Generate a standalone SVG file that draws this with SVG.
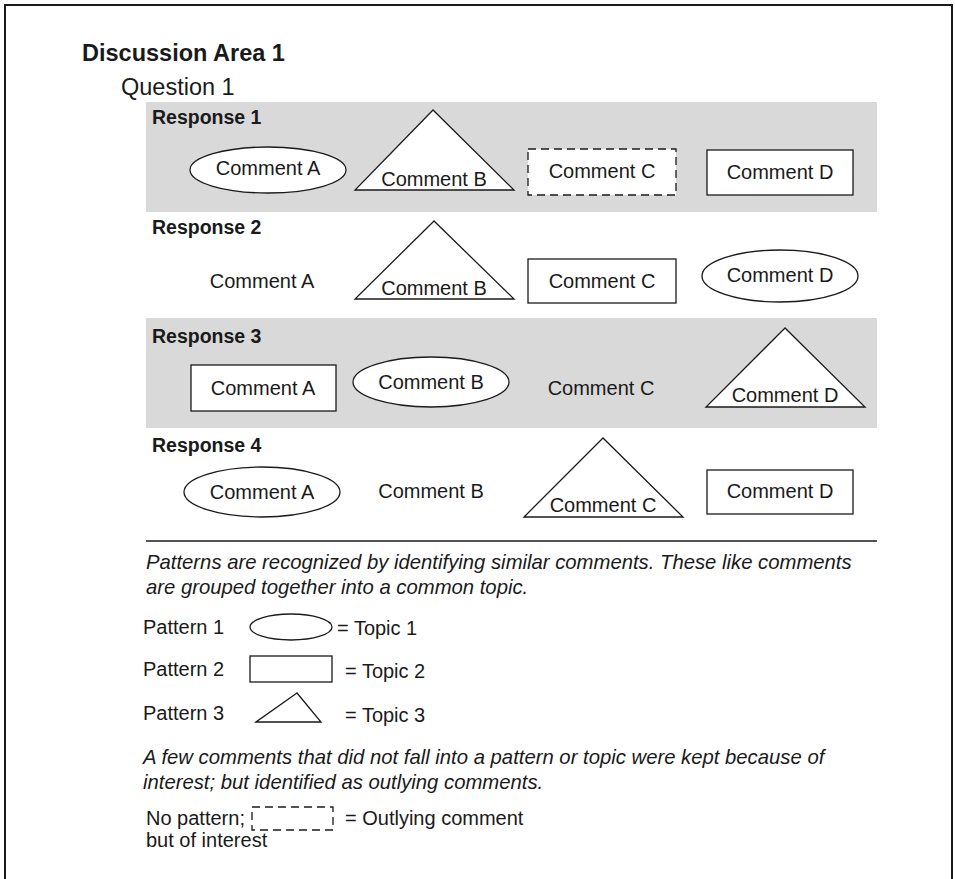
<svg xmlns="http://www.w3.org/2000/svg" width="955" height="879" viewBox="0 0 955 879">
  <style>
    text { font-family: "Liberation Sans", Arial, sans-serif; fill: #1a1a1a; }
    .title { font-size: 23.5px; font-weight: bold; }
    .question { font-size: 23.5px; }
    .resp { font-size: 19.5px; font-weight: bold; }
    .cmt { font-size: 20px; text-anchor: middle; }
    .note { font-size: 20.3px; font-style: italic; }
    .legend { font-size: 20px; }
    .shape { fill: #ffffff; stroke: #1a1a1a; stroke-width: 1.3; }
    .dashed { fill: #ffffff; stroke: #1a1a1a; stroke-width: 1.3; stroke-dasharray: 8 5; }
    .band { fill: #d9d9d9; }
    .frame { fill: none; stroke: #1a1a1a; stroke-width: 2; }
  </style>

  <!-- page frame -->
  <path class="frame" d="M5 879 V5 H952 V879"/>

  <text class="title" x="82" y="61">Discussion Area 1</text>
  <text class="question" x="121" y="95">Question 1</text>

  <!-- shaded response bands -->
  <rect class="band" x="146" y="102" width="731" height="110"/>
  <rect class="band" x="146" y="318" width="731" height="110"/>

  <!-- Response 1 -->
  <g id="response1">
    <text class="resp" x="152" y="124">Response 1</text>
    <g id="r1-a">
      <ellipse class="shape" cx="268" cy="170" rx="78" ry="23"/>
      <text class="cmt" x="268" y="175">Comment A</text>
    </g>
    <g id="r1-b">
      <polygon class="shape" points="433,110 355,190 514,190"/>
      <text class="cmt" x="434" y="186">Comment B</text>
    </g>
    <g id="r1-c">
      <rect class="dashed" x="528" y="149" width="148" height="46"/>
      <text class="cmt" x="602" y="178">Comment C</text>
    </g>
    <g id="r1-d">
      <rect class="shape" x="707" y="150" width="146" height="45"/>
      <text class="cmt" x="780" y="179">Comment D</text>
    </g>
  </g>

  <!-- Response 2 -->
  <g id="response2">
    <text class="resp" x="152" y="234">Response 2</text>
    <g id="r2-a">
      <text class="cmt" x="262" y="288">Comment A</text>
    </g>
    <g id="r2-b">
      <polygon class="shape" points="434,221 355,299 514,299"/>
      <text class="cmt" x="434" y="295">Comment B</text>
    </g>
    <g id="r2-c">
      <rect class="shape" x="528" y="259" width="148" height="44"/>
      <text class="cmt" x="602" y="288">Comment C</text>
    </g>
    <g id="r2-d">
      <ellipse class="shape" cx="780" cy="276" rx="78" ry="26"/>
      <text class="cmt" x="780" y="282">Comment D</text>
    </g>
  </g>

  <!-- Response 3 -->
  <g id="response3">
    <text class="resp" x="152" y="343">Response 3</text>
    <g id="r3-a">
      <rect class="shape" x="191" y="365" width="145" height="46"/>
      <text class="cmt" x="263" y="395">Comment A</text>
    </g>
    <g id="r3-b">
      <ellipse class="shape" cx="431" cy="382" rx="78" ry="25"/>
      <text class="cmt" x="431" y="389">Comment B</text>
    </g>
    <g id="r3-c">
      <text class="cmt" x="601" y="395">Comment C</text>
    </g>
    <g id="r3-d">
      <polygon class="shape" points="785,328 706,407 865,407"/>
      <text class="cmt" x="785" y="402">Comment D</text>
    </g>
  </g>

  <!-- Response 4 -->
  <g id="response4">
    <text class="resp" x="152" y="452">Response 4</text>
    <g id="r4-a">
      <ellipse class="shape" cx="262" cy="492" rx="78" ry="25"/>
      <text class="cmt" x="262" y="499">Comment A</text>
    </g>
    <g id="r4-b">
      <text class="cmt" x="431" y="498">Comment B</text>
    </g>
    <g id="r4-c">
      <polygon class="shape" points="603,438 524,517 683,517"/>
      <text class="cmt" x="603" y="512">Comment C</text>
    </g>
    <g id="r4-d">
      <rect class="shape" x="707" y="470" width="146" height="44"/>
      <text class="cmt" x="780" y="498">Comment D</text>
    </g>
  </g>

  <!-- divider -->
  <line x1="146" y1="541" x2="877" y2="541" stroke="#1a1a1a" stroke-width="1.5"/>

  <!-- explanation and legend -->
  <g id="legend">
    <text class="note" x="146" y="569">Patterns are recognized by identifying similar comments. These like comments</text>
    <text class="note" x="146" y="594">are grouped together into a common topic.</text>

    <g id="pattern1">
      <text class="legend" x="143" y="634">Pattern 1</text>
      <ellipse class="shape" cx="291" cy="627" rx="41" ry="13"/>
      <text class="legend" x="337" y="635">= Topic 1</text>
    </g>
    <g id="pattern2">
      <text class="legend" x="143" y="676">Pattern 2</text>
      <rect class="shape" x="250" y="656" width="82" height="26"/>
      <text class="legend" x="345" y="678">= Topic 2</text>
    </g>
    <g id="pattern3">
      <text class="legend" x="143" y="720">Pattern 3</text>
      <polygon class="shape" points="297,693 256,722 321,722"/>
      <text class="legend" x="345" y="722">= Topic 3</text>
    </g>

    <text class="note" x="143" y="764">A few comments that did not fall into a pattern or topic were kept because of</text>
    <text class="note" x="143" y="789">interest; but identified as outlying comments.</text>

    <g id="outlier">
      <text class="legend" x="146" y="825">No pattern;</text>
      <rect class="dashed" x="252" y="807" width="81" height="23"/>
      <text class="legend" x="345" y="825">= Outlying comment</text>
      <text class="legend" x="146" y="847">but of interest</text>
    </g>
  </g>
</svg>
